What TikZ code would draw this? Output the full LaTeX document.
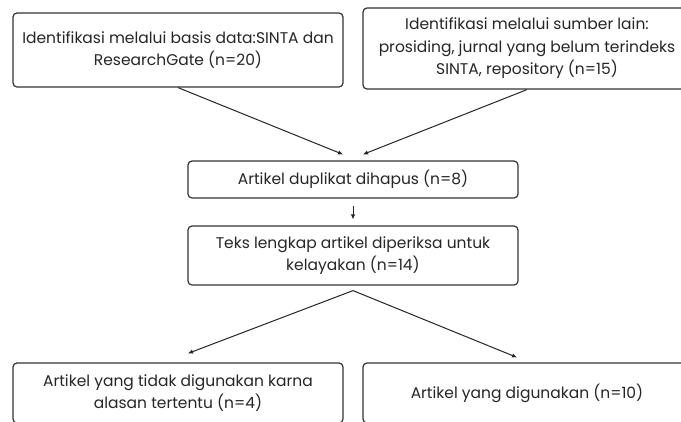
\documentclass[tikz,border=0pt]{standalone}
\usepackage{fontspec}
\setmainfont{Poppins}
\usepackage{tikz}
\usetikzlibrary{calc}
\usetikzlibrary{arrows.meta}

\tikzset{
  kotak/.style={draw=black!80, line width=1.2pt, rounded corners=4pt, align=center,
    inner sep=0pt, text=black!85, font=\fontsize{15.5}{22.5}\selectfont},
  panah/.style={draw=black!85, line width=1pt, -{Latex[length=5pt,width=4.5pt]}},
}

\begin{document}
\begin{tikzpicture}[x=1pt, y=-1pt]
    % frame of the picture (pixel units, y going down)
    \useasboundingbox (0,0) rectangle (681,421);
    \clip (0,0) rectangle (681,421);
    \fill[white] (0,0) rectangle (681,421);

    % identification boxes
    \node[kotak, minimum width=330pt, minimum height=74pt] (sinta) at (178,50)
        {Identifikasi melalui basis data:SINTA dan\\ResearchGate (n=20)};
    \node[kotak, minimum width=328pt, minimum height=81pt] (sumber) at (527,48.5)
        {Identifikasi melalui sumber lain:\\prosiding, jurnal yang belum terindeks\\SINTA, repository (n=15)};

    % screening boxes
    \node[kotak, minimum width=330pt, minimum height=37pt] (duplikat) at (353,179.5)
        {Artikel duplikat dihapus (n=8)};
    \node[kotak, minimum width=330pt, minimum height=59pt] (periksa) at (353,255.5)
        {Teks lengkap artikel diperiksa untuk\\kelayakan (n=14)};

    % result boxes (cut by the lower edge)
    \node[kotak, minimum width=330pt, minimum height=60pt] (tolak) at (178,393)
        {Artikel yang tidak digunakan karna\\alasan tertentu (n=4)};
    \node[kotak, minimum width=328pt, minimum height=60pt] (pakai) at (527,393)
        {Artikel yang digunakan (n=10)};

    % arrow ends
    \coordinate (masukKiri) at ($(duplikat.north)+(-10,-6)$);
    \coordinate (masukKanan) at ($(duplikat.north)+(10,-6)$);
    \coordinate (cabang) at ($(periksa.south)+(0,5)$);
    \coordinate (keKiri) at ($(tolak.north)+(10,-9)$);
    \coordinate (keKanan) at ($(pakai.north)+(-10,-5)$);

    % connectors
    \draw[panah] (sinta.south) -- (masukKiri);
    \draw[panah] (sumber.south) -- (masukKanan);
    \draw[panah, shorten <=7pt, shorten >=6pt] (duplikat) -- (periksa);
    \draw[panah] (cabang) -- (keKiri);
    \draw[panah] (cabang) -- (keKanan);

\end{tikzpicture}
\end{document}
